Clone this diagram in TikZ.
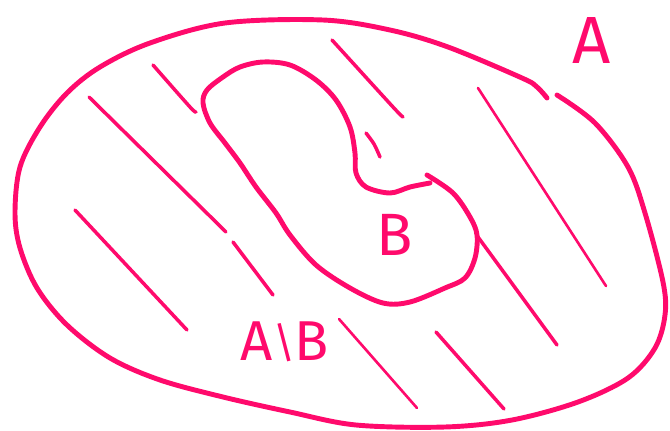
\documentclass[tikz,border=0pt]{standalone}
\usepackage{fontspec}
\setmainfont{Fira Sans}
\usepackage{tikz}
\usetikzlibrary{positioning}

\definecolor{setpink}{HTML}{FF0A6C}
\tikzset{
  setline/.style={draw=setpink, line width=2.8pt, line cap=round, line join=round},
  hatch/.style={draw=setpink, line width=2pt, line cap=round},
  thinhatch/.style={draw=setpink, line width=1.5pt, line cap=round},
  setlabel/.style={text=setpink, inner sep=0pt}
}

\begin{document}
\begin{tikzpicture}[x=0.02cm, y=-0.02cm]
  \useasboundingbox (0,0) rectangle (670,430);

  % set A
  \draw[setline] plot[smooth, tension=0.55] coordinates {
    (557,95) (595,123) (628,167) (645,213) (663,282) (665,315) (655,348)
    (628,378) (578,402) (512,420) (445,427) (356,425) (290,412) (223,397)
    (160,380) (110,358) (67,325) (37,288) (20,248) (15,213) (20,167)
    (40,127) (67,93) (100,67) (150,43) (225,23) (323,20) (390,30)
    (448,47) (522,78) (537,87) (547,98)};

  % set B
  \draw[setline] plot[smooth, tension=0.55] coordinates {
    (430,183) (410,187) (390,193) (366,187) (356,173) (355,153) (350,127)
    (336,100) (316,80) (290,65) (263,62) (240,67) (223,77) (207,90)
    (203,103) (210,123) (225,143) (240,163) (256,187) (276,213) (290,235)
    (316,265) (350,288) (383,303) (410,302) (445,288) (465,278) (475,258)
    (477,235) (470,217) (453,193) (427,175)};

  % hatching of A\B
  \draw[hatch] plot[smooth] coordinates {(153,65) (190,107) (196,112)};
  \draw[hatch] (89,97) -- (226,232);
  \draw[hatch] (233,242) -- (273,295);
  \draw[hatch] (75,210) -- (187,330);
  \draw[hatch] plot[smooth] coordinates {(332,40) (393,107) (403,117)};
  \draw[hatch] plot[smooth] coordinates {(366,133) (374,144) (380,157)};
  \draw[thinhatch] (478,88) -- (606,286);
  \draw[hatch] (478,237) -- (557,345);
  \draw[hatch] (436,332) -- (504,409);
  \draw[thinhatch] (339,319) -- (417,408);

  % labels
  \node[setlabel] (labelA) at (592,40) {\fontsize{38}{40}\selectfont A};
  \node[setlabel] (labelB) at (395,235) {\fontsize{34}{36}\selectfont B};
  \node[setlabel] (labelAB) at (285,342)
    {\fontsize{32}{34}\selectfont A{\fontsize{24}{26}\selectfont\raisebox{2pt}{\textbackslash}}B};
\end{tikzpicture}
\end{document}
